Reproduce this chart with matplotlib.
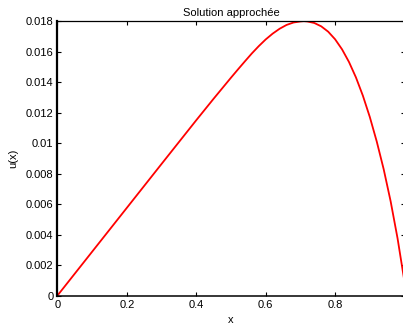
import matplotlib
matplotlib.use("Agg")
import matplotlib.pyplot as plt

x_vals = [0.0, 0.1, 0.2, 0.3, 0.4, 0.45, 0.5, 0.52, 0.54, 0.56, 0.58, 0.6, 0.62, 0.64,
          0.66, 0.68, 0.7, 0.71, 0.72, 0.74, 0.76, 0.78, 0.8, 0.82, 0.84, 0.86, 0.88,
          0.9, 0.92, 0.94, 0.96, 0.98, 1.0]
u_vals = [0.0, 0.00288, 0.00576, 0.00864, 0.01151, 0.01292, 0.01430, 0.01484, 0.01537,
          0.01589, 0.01637, 0.01681, 0.01719, 0.01751, 0.01776, 0.01792, 0.01799, 0.01801,
          0.01799, 0.01789, 0.01767, 0.01732, 0.01682, 0.01616, 0.01533, 0.01432, 0.01312,
          0.01172, 0.01011, 0.00829, 0.00619, 0.00375, 0.00090]

x_ticks = [0, 0.2, 0.4, 0.6, 0.8]
x_tick_labels = ["0", "0.2", "0.4", "0.6", "0.8"]
y_ticks = [0, 0.002, 0.004, 0.006, 0.008, 0.01, 0.012, 0.014, 0.016, 0.018]
y_tick_labels = ["0", "0.002", "0.004", "0.006", "0.008", "0.01", "0.012", "0.014", "0.016", "0.018"]

title = "Solution approchée"
xlabel = "x"
ylabel = "u(x)"

plt.rcParams['font.family'] = ['Liberation Sans', 'DejaVu Sans']

W, H = 403, 327
fig = plt.figure(figsize=(W / 100, H / 100), dpi=100)
ax = fig.add_axes([57.5 / W, 31.5 / H, (404.5 - 57.5) / W, (295.5 - 21.3) / H])

ax.plot(x_vals, u_vals, color="#ff0000", lw=1.3, solid_joinstyle="round")
ax.set_xlim(0, 1)
ax.set_ylim(0, 0.018)
ax.set_xticks(x_ticks)
ax.set_xticklabels(x_tick_labels)
ax.set_yticks(y_ticks)
ax.set_yticklabels(y_tick_labels)
ax.tick_params(direction="in", length=3, width=0.8, labelsize=8, colors="black",
               top=True, right=True, pad=3)
ax.spines['left'].set_linewidth(1.6)
ax.spines['bottom'].set_linewidth(1.1)
ax.spines['top'].set_linewidth(0.9)
ax.spines['right'].set_linewidth(0.9)

ax.set_title(title, fontsize=8, pad=4)
ax.set_xlabel(xlabel, fontsize=8, labelpad=4)
ax.set_ylabel(ylabel, fontsize=8, labelpad=5)

fig.savefig("out.png", dpi=100)
